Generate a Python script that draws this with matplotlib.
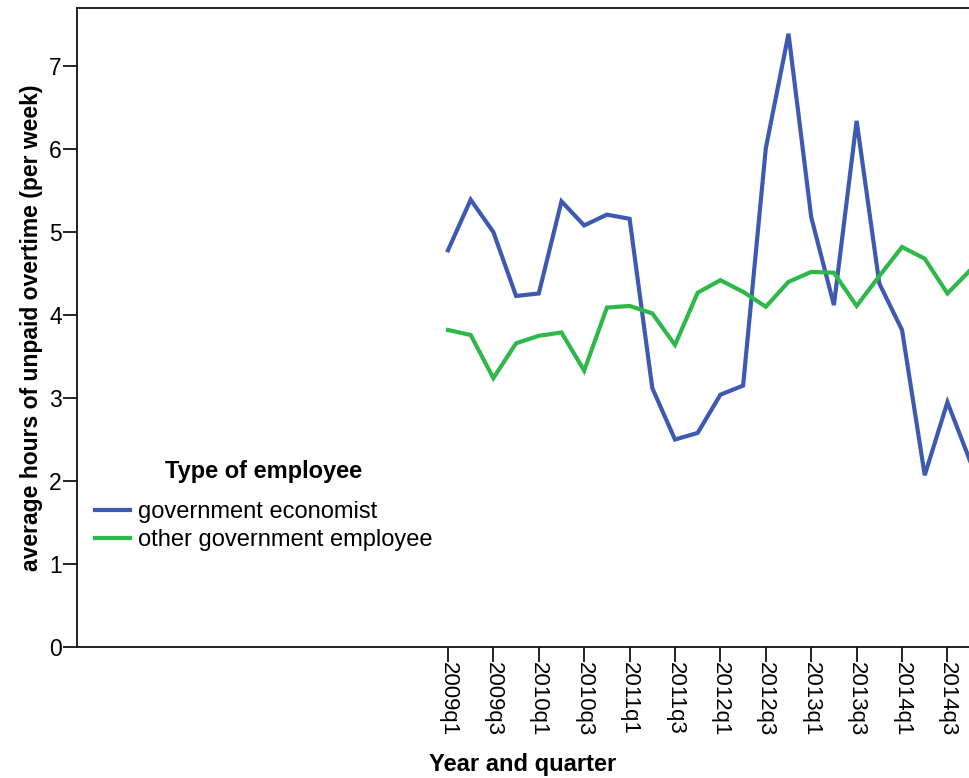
import matplotlib
matplotlib.use('Agg')
import matplotlib.pyplot as plt

plt.rcParams['font.family'] = ['Liberation Sans', 'DejaVu Sans']

# quarters 2009q1 .. 2014q4
quarters = ['%dq%d' % (y, q) for y in range(2009, 2015) for q in range(1, 5)]
economist = [4.78, 5.39, 5.00, 4.23, 4.26, 5.37, 5.08, 5.21, 5.16, 3.12, 2.50, 2.58,
             3.04, 3.15, 6.01, 7.39, 5.18, 4.12, 6.34, 4.38, 3.82, 2.07, 2.95, 2.24]
other = [3.82, 3.76, 3.24, 3.66, 3.75, 3.79, 3.33, 4.09, 4.11, 4.02, 3.64, 4.27,
         4.42, 4.28, 4.10, 4.40, 4.52, 4.51, 4.11, 4.47, 4.82, 4.68, 4.26, 4.54]
tick_labels = quarters[::2]

blue = '#3D5AB0'
green = '#2EB84A'

fig = plt.figure(figsize=(9.69, 7.78), dpi=100)
ax = fig.add_axes([77 / 969, 131 / 778, 892 / 969, 639 / 778])

x = list(range(len(quarters)))
ax.plot(x, economist, color=blue, lw=3.0, label='government economist', solid_joinstyle='miter')
ax.plot(x, other, color=green, lw=3.0, label='other government employee', solid_joinstyle='miter')

ax.set_xlim(-16.34, 22.95)
ax.set_ylim(0, 7.7)
ax.set_yticks(range(0, 8))
ax.set_xticks(x[::2])
ax.set_xticklabels(tick_labels, rotation=-90, fontsize=16)
ax.tick_params(axis='y', labelsize=16.5, length=10, width=1.2, pad=1)
ax.tick_params(axis='x', length=10.5, width=1.2, pad=0)

for s in ['left', 'bottom', 'top']:
    ax.spines[s].set_linewidth(1.3)
    ax.spines[s].set_color('#111111')
ax.spines['right'].set_visible(False)

ax.set_xlabel('Year and quarter', fontsize=17, fontweight='bold', labelpad=12)
ax.set_ylabel('average hours of unpaid overtime (per week)', fontsize=16.5,
              fontweight='bold', labelpad=4)

leg = ax.legend(loc='upper left', bbox_to_anchor=(95 / 969, 1 - 460 / 778),
                bbox_transform=fig.transFigure, frameon=False, fontsize=17,
                title='Type of employee', title_fontproperties={'weight': 'bold', 'size': 17},
                handlelength=1.5, handletextpad=0.3, labelspacing=0.25,
                borderpad=0, borderaxespad=0)
leg._legend_box.sep = 13

fig.savefig('out.png', dpi=100)
